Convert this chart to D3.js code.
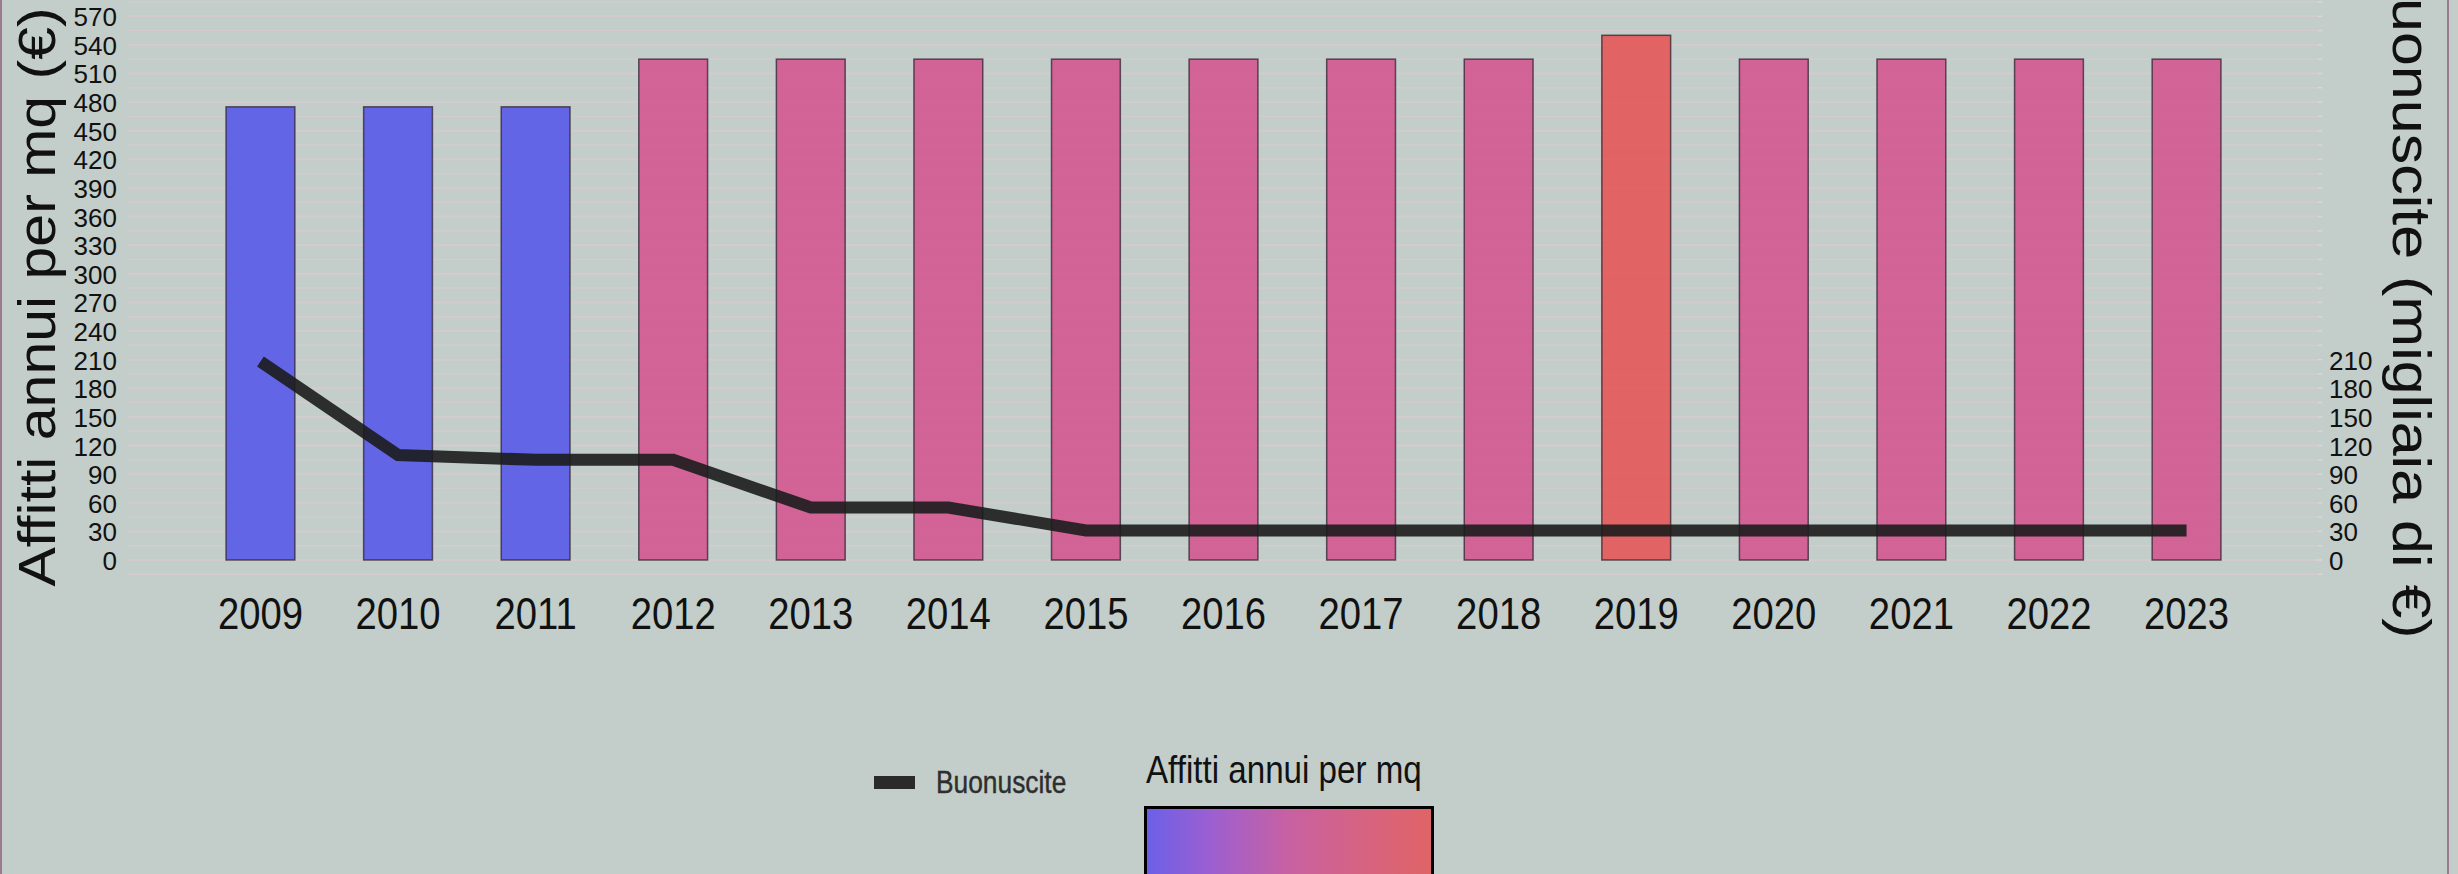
<!DOCTYPE html>
<html>
<head>
<meta charset="utf-8">
<style>
  body { margin: 0; background: #c3cdc9; }
  svg { display: block; font-family: "Liberation Sans", Arial, sans-serif; }
</style>
</head>
<body>
<div id="chart"></div>
<script src="https://cdn.jsdelivr.net/npm/d3@7/dist/d3.min.js"></script>
<script>
var years = ['2009','2010','2011','2012','2013','2014','2015','2016','2017','2018','2019','2020','2021','2022','2023'];
var affitti = [475,475,475,525,525,525,525,525,525,525,550,525,525,525,525];
var buonuscite = [208,110,105,105,55,55,31,31,31,31,31,31,31,31,31];
var leftTicks = [0,30,60,90,120,150,180,210,240,270,300,330,360,390,420,450,480,510,540,570];
var rightTicks = [0,30,60,90,120,150,180,210];

var W = 2458, H = 874;
var svg = d3.select('#chart').append('svg').attr('width', W).attr('height', H);

svg.append('rect').attr('width', W).attr('height', H).attr('fill', '#c3cdc9');

var x = d3.scaleBand().domain(years).range([127, 2320]).paddingInner(0.5).paddingOuter(0.72);
var y = d3.scaleLinear().domain([0, 587]).range([560, 0]);
var y2 = d3.scaleLinear().domain([0, 587]).range([560, 0]);

// grid lines every 15
var grid = d3.range(-15, 586, 15);
svg.append('g').selectAll('line').data(grid).enter().append('line')
  .attr('x1', 127).attr('x2', 2318)
  .attr('y1', function(d){ return y(d); }).attr('y2', function(d){ return y(d); })
  .attr('stroke', '#d3cbce')
  .attr('stroke-width', function(d){ return d % 30 === 0 ? 2 : 1.5; });

// right side tiny tick marks
svg.append('g').selectAll('line').data(grid).enter().append('line')
  .attr('x1', 2318).attr('x2', 2322)
  .attr('y1', function(d){ return y(d); }).attr('y2', function(d){ return y(d); })
  .attr('stroke', '#dcd6d8').attr('stroke-width', 1.5);

var color = d3.scaleLinear()
  .domain([475, 500, 512.5, 525, 550])
  .range(['#585ae8', '#9458d8', '#c05aaa', '#d45890', '#e55859']);

svg.append('g').selectAll('rect').data(years).enter().append('rect')
  .attr('x', function(d){ return x(d); })
  .attr('width', x.bandwidth())
  .attr('y', function(d, i){ return y(affitti[i]); })
  .attr('height', function(d, i){ return y(0) - y(affitti[i]); })
  .attr('fill', function(d, i){ return color(affitti[i]); })
  .attr('fill-opacity', 0.9)
  .attr('stroke', 'rgba(50,35,50,0.75)')
  .attr('stroke-width', 1.5);

var line = d3.line()
  .x(function(d, i){ return x(years[i]) + x.bandwidth() / 2; })
  .y(function(d){ return y2(d); });

svg.append('path').datum(buonuscite)
  .attr('d', line)
  .attr('fill', 'none')
  .attr('stroke', '#1c1c1c')
  .attr('stroke-opacity', 0.9)
  .attr('stroke-width', 12)
  .attr('stroke-linejoin', 'miter');

// left axis labels
svg.append('g').selectAll('text').data(leftTicks).enter().append('text')
  .attr('x', 117).attr('y', function(d){ return y(d) + 1; })
  .attr('text-anchor', 'end').attr('dominant-baseline', 'central')
  .attr('font-size', 26).attr('fill', '#111')
  .text(function(d){ return d; });

// right axis labels
svg.append('g').selectAll('text').data(rightTicks).enter().append('text')
  .attr('x', 2329).attr('y', function(d){ return y2(d) + 1; })
  .attr('text-anchor', 'start').attr('dominant-baseline', 'central')
  .attr('font-size', 26).attr('fill', '#111')
  .text(function(d){ return d; });

// year labels
svg.append('g').selectAll('text').data(years).enter().append('text')
  .attr('transform', function(d){ return 'translate(' + (x(d) + x.bandwidth() / 2) + ',629) scale(0.85,1)'; })
  .attr('text-anchor', 'middle')
  .attr('font-size', 45).attr('fill', '#111')
  .text(function(d){ return d; });

// axis titles
svg.append('text')
  .attr('transform', 'translate(55,297) rotate(-90) scale(1,0.88)')
  .attr('text-anchor', 'middle').attr('font-size', 59).attr('fill', '#111')
  .text('Affitti annui per mq (€)');

svg.append('text')
  .attr('transform', 'translate(2393,298) rotate(90) scale(1,0.88)')
  .attr('text-anchor', 'middle').attr('font-size', 61).attr('fill', '#111')
  .text('Buonuscite (migliaia di €)');

// legend: line
svg.append('rect').attr('x', 874).attr('y', 776).attr('width', 41).attr('height', 13).attr('fill', '#2a2a2a');
svg.append('text')
  .attr('transform', 'translate(936,793) scale(0.85,1)')
  .attr('font-size', 31).attr('fill', '#2e2e2e')
  .attr('stroke', '#2e2e2e').attr('stroke-width', 0.4)
  .text('Buonuscite');

// legend: colour bar
svg.append('text')
  .attr('transform', 'translate(1146,783) scale(0.85,1)')
  .attr('font-size', 39).attr('fill', '#111')
  .text('Affitti annui per mq');

var grad = svg.append('defs').append('linearGradient').attr('id', 'lg');
var stops = [[0, '#6a60e8'], [0.22, '#9b5fd2'], [0.5, '#c861a2'], [0.75, '#d66382'], [1, '#e06466']];
grad.selectAll('stop').data(stops).enter().append('stop')
  .attr('offset', function(d){ return d[0]; })
  .attr('stop-color', function(d){ return d[1]; });

svg.append('rect').attr('x', 1145.5).attr('y', 807.5).attr('width', 287).attr('height', 80)
  .attr('fill', 'url(#lg)').attr('stroke', '#000').attr('stroke-width', 3);

// outer frame lines
svg.append('line').attr('x1', 1).attr('x2', 1).attr('y1', 0).attr('y2', H).attr('stroke', '#9c7a8e').attr('stroke-width', 2);
svg.append('line').attr('x1', 2448).attr('x2', 2448).attr('y1', 0).attr('y2', H).attr('stroke', '#9c7a8e').attr('stroke-width', 2);
</script>
</body>
</html>
